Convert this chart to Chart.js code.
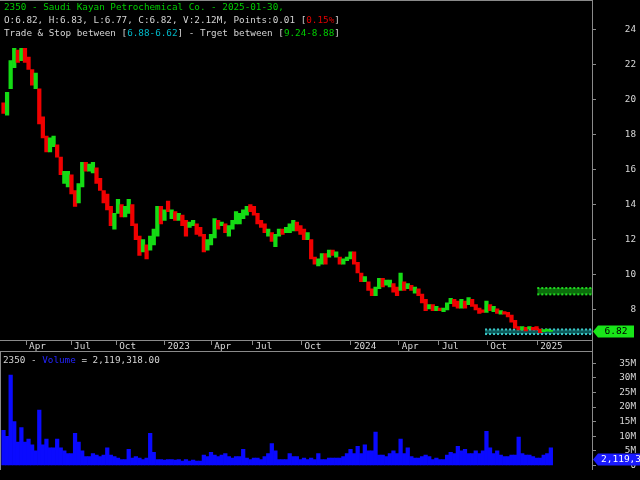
<!DOCTYPE html>
<html>
<head>
<meta charset="utf-8">
<script src="https://cdn.jsdelivr.net/npm/chart.js@4.4.1/dist/chart.umd.min.js"></script>
<style>
  html, body { margin: 0; padding: 0; background: #000; }
  #wrap { position: relative; width: 640px; height: 480px; overflow: hidden; background: #000;
          font-family: 'DejaVu Sans Mono', 'Liberation Mono', monospace; font-size: 9.3px; }
  #priceBox { position: absolute; left: 0; top: 0; width: 640px; height: 352px; }
  #volBox { position: absolute; left: 0; top: 352px; width: 640px; height: 128px; }
  .info { position: absolute; white-space: pre; line-height: 13px; color: #d4d4d4; }
  .green { color: #00cc00; }
  .red { color: #e00000; }
  .cyan { color: #00b8c8; }
  .blue { color: #2424ff; }
</style>
</head>
<body>
<div id="wrap">
  <div id="priceBox"><canvas id="priceChart" width="640" height="352"></canvas></div>
  <div id="volBox"><canvas id="volChart" width="640" height="128"></canvas></div>
  <div class="info green" style="left:4px; top:0px;">2350 - Saudi Kayan Petrochemical Co. - 2025-01-30,</div>
  <div class="info" style="left:4px; top:13px;">O:6.82, H:6.83, L:6.77, C:6.82, V:2.12M, Points:0.01 [<span class="red">0.15%</span>]</div>
  <div class="info" style="left:4px; top:26px;">Trade &amp; Stop between [<span class="cyan">6.88-6.62</span>] - Trget between [<span class="green">9.24-8.88</span>]</div>
  <div class="info" style="left:3px; top:353px;">2350 - <span class="blue">Volume</span> = 2,119,318.00</div>
</div>
<script>
// weekly candles (week 0 = mid Feb 2022, week 153 = last week of Jan 2025)
const opens = [
  19.8, 19.1, 20.6, 21.8, 22.8, 22.2, 22.9, 22.4, 21.7, 20.6,
  20.6, 19.0, 17.9, 17.0, 17.3, 17.4, 16.7, 15.2, 15.0, 15.7,
  14.8, 14.1, 15.0, 16.4, 15.9, 15.8, 16.1, 15.5, 14.8, 14.6,
  13.9, 12.6, 13.5, 14.0, 13.3, 13.5, 14.0, 12.9, 12.2, 11.3,
  11.7, 11.4, 11.7, 12.2, 13.9, 13.1, 14.2, 13.2, 13.6, 13.1,
  13.4, 13.1, 12.7, 12.8, 12.9, 12.7, 12.3, 11.4, 11.7, 12.1,
  13.1, 12.8, 12.9, 12.2, 12.6, 12.9, 12.9, 13.2, 13.4, 14.0,
  13.9, 13.5, 13.1, 12.9, 12.2, 12.4, 11.6, 12.2, 12.6, 12.4,
  12.4, 12.5, 13.0, 12.8, 12.6, 12.0, 12.0, 11.0, 10.5, 10.6,
  11.2, 11.0, 11.4, 11.0, 11.0, 10.6, 10.8, 10.9, 11.3, 10.7,
  10.1, 9.6, 9.6, 9.2, 8.8, 9.2, 9.8, 9.4, 9.3, 9.5,
  9.3, 9.1, 9.6, 9.2, 9.4, 8.95, 9.2, 8.9, 8.6, 8.05,
  8.3, 7.95, 8.1, 7.9, 8.0, 8.35, 8.6, 8.5, 8.1, 8.5,
  8.3, 8.6, 8.3, 8.1, 8.0, 7.85, 8.3, 7.9, 8.05, 7.75,
  7.9, 7.85, 7.7, 7.4, 7.05, 6.85, 7.0, 6.9, 7.0, 7.05,
  6.9, 6.75, 6.78, 6.77
];
const closes = [
  19.2, 20.4, 22.2, 22.9, 22.1, 22.9, 22.1, 21.7, 20.8, 21.5,
  18.6, 17.8, 17.0, 17.8, 17.9, 16.7, 15.7, 15.9, 15.9, 14.6,
  13.9, 15.2, 16.4, 15.9, 16.3, 16.4, 15.2, 14.8, 14.1, 13.7,
  12.8, 13.5, 14.3, 13.3, 13.9, 14.3, 12.8, 12.0, 11.1, 12.0,
  10.9, 12.2, 12.6, 13.9, 12.9, 13.7, 13.6, 13.7, 13.1, 13.5,
  12.8, 12.2, 13.0, 13.1, 12.3, 12.2, 11.3, 12.0, 12.3, 13.2,
  12.6, 13.0, 12.4, 12.8, 13.1, 13.6, 13.5, 13.7, 13.9, 13.6,
  13.4, 12.9, 12.7, 12.4, 12.6, 11.9, 12.3, 12.6, 12.3, 12.7,
  12.9, 13.1, 12.5, 12.3, 12.0, 12.4, 10.9, 10.6, 10.9, 11.2,
  10.6, 11.4, 11.1, 11.3, 10.6, 10.9, 11.0, 11.3, 10.6, 10.1,
  9.6, 9.9, 9.1, 8.8, 9.3, 9.8, 9.3, 9.7, 9.7, 9.0,
  8.8, 10.1, 9.1, 9.5, 9.1, 9.3, 8.8, 8.4, 7.95, 8.3,
  7.95, 8.2, 7.95, 8.1, 8.4, 8.65, 8.2, 8.1, 8.6, 8.1,
  8.7, 8.2, 8.0, 7.8, 7.85, 8.5, 7.95, 8.2, 7.8, 7.95,
  7.75, 7.6, 7.3, 6.95, 6.85, 7.05, 6.8, 7.05, 6.85, 6.85,
  6.7, 6.88, 6.9, 6.82
];
// volume in millions, one bar per week
const volumes = [
  12, 10, 31, 15, 8, 13, 8, 9, 7, 5,
  19, 7, 9, 6, 6, 9, 6, 5, 4, 4,
  11, 8, 5, 3, 3, 4, 3.5, 3, 3.5, 6,
  3.5, 3, 2.5, 2, 2, 5.5, 2.5, 3, 2.5, 2,
  2.5, 11, 4.5, 2, 2, 1.8, 2, 2, 1.8, 2,
  1.5, 2, 1.5, 1.8, 1.5, 1.5, 3.5, 3, 4.5, 3.5,
  3, 3.5, 4, 3, 2.5, 3, 3, 5.5, 2.5, 2,
  2.5, 2.5, 2, 3, 4, 7.5, 5, 2, 2, 2,
  4, 3, 3, 2, 2.5, 2, 2.5, 2, 4, 2,
  2, 2.5, 2.5, 2.5, 2.5, 3, 4, 5.5, 4, 6.5,
  4, 7, 5, 5, 11.4, 3.5, 3.5, 3, 4, 5,
  4, 9, 4, 6, 3, 2.5, 2.5, 3, 3.5, 3,
  2, 2.5, 2, 2, 3.5, 4.5, 4, 6.5, 5, 5.5,
  4, 4, 5, 4, 5, 11.7, 6, 4, 5, 3.5,
  3, 3, 3.5, 3.5, 9.7, 4, 3.5, 3.5, 3, 2.5,
  2.5, 3.5, 4, 6
];
const lastVolume = 2119318;

const priceTicks = [8, 10, 12, 14, 16, 18, 20, 22, 24];
const volumeTicks = [0, 5, 10, 15, 20, 25, 30, 35];
const tickWeeks = [6.3, 18.9, 31.5, 45.0, 58.1, 69.6, 83.3, 97.1, 110.5, 121.7, 135.2, 149.2];
const tickLabels = ['Apr', 'Jul', 'Oct', '2023', 'Apr', 'Jul', 'Oct', '2024', 'Apr', 'Jul', 'Oct', '2025'];

// trade/stop and target zones: [low, high], first week shown
const stopZone = [6.62, 6.88];
const stopStart = 134.6;
const targetZone = [8.88, 9.24];
const targetStart = 149.2;

const xMin = -0.98;
const xMax = 164.5;
const gridColor = '#8a8a8a';
const labelColor = '#d8d8d8';
const monoFont = { family: "'DejaVu Sans Mono', 'Liberation Mono', monospace", size: 9.3 };
const upColor = '#14dc14';
const downColor = '#f00000';

function zoneLine(value, start) {
  return [{ x: start, y: value }, { x: xMax, y: value }];
}

// grey frame lines around the panels
function framePlugin(isPrice) {
  return {
    id: 'frame',
    afterDraw(chart) {
      const { ctx, chartArea: a, height } = chart;
      ctx.save();
      ctx.strokeStyle = gridColor;
      ctx.lineWidth = 1;
      ctx.beginPath();
      if (isPrice) {
        ctx.moveTo(0, 0.5); ctx.lineTo(a.right, 0.5);
        ctx.moveTo(0, a.bottom + 0.5); ctx.lineTo(a.right, a.bottom + 0.5);
        ctx.moveTo(0, height - 0.5); ctx.lineTo(a.right, height - 0.5);
        ctx.moveTo(a.right + 0.5, 0); ctx.lineTo(a.right + 0.5, height);
      } else {
        ctx.moveTo(0.5, 0); ctx.lineTo(0.5, a.bottom);
        ctx.moveTo(a.right + 0.5, 0); ctx.lineTo(a.right + 0.5, a.bottom);
      }
      ctx.stroke();
      ctx.restore();
    }
  };
}

// coloured value tag on the right axis; boxWidth null = runs off the edge
function tagPlugin(getValue, text, bg, fg, boxWidth) {
  return {
    id: 'tag',
    afterDraw(chart) {
      const { ctx, chartArea: a, width } = chart;
      const y = Math.round(chart.scales.y.getPixelForValue(getValue())) + 0.5;
      const x = a.right + 1;
      const h = 12;
      const right = boxWidth ? x + boxWidth : width + 2;
      ctx.save();
      ctx.fillStyle = bg;
      ctx.beginPath();
      ctx.moveTo(x, y);
      ctx.lineTo(x + 5, y - h / 2);
      ctx.lineTo(right, y - h / 2);
      ctx.lineTo(right, y + h / 2);
      ctx.lineTo(x + 5, y + h / 2);
      ctx.closePath();
      ctx.fill();
      ctx.fillStyle = fg;
      ctx.font = "9.5px 'DejaVu Sans Mono', monospace";
      ctx.textBaseline = 'middle';
      if (boxWidth) {
        ctx.textAlign = 'center';
        ctx.fillText(text, (x + 5 + right) / 2, y + 0.5);
      } else {
        ctx.textAlign = 'left';
        ctx.fillText(text, x + 8, y + 0.5);
      }
      ctx.restore();
    }
  };
}

const candleData = opens.map((o, i) => ({ x: i, y: [o, closes[i]] }));
const candleColors = opens.map((o, i) => closes[i] >= o ? upColor : downColor);

new Chart(document.getElementById('priceChart'), {
  type: 'bar',
  data: {
    datasets: [{
      label: '2350',
      data: candleData,
      backgroundColor: candleColors,
      borderWidth: 0,
      barPercentage: 1,
      categoryPercentage: 1,
      minBarLength: 1,
      order: 0
    }, {
      type: 'line',
      label: 'Target high',
      data: zoneLine(targetZone[1], targetStart),
      borderColor: '#22d822',
      borderWidth: 2,
      borderDash: [2, 2],
      pointRadius: 0,
      fill: false,
      order: 1
    }, {
      type: 'line',
      label: 'Target low',
      data: zoneLine(targetZone[0], targetStart),
      borderColor: '#22d822',
      borderWidth: 2,
      borderDash: [2, 2],
      backgroundColor: '#0b6e0b',
      pointRadius: 0,
      fill: '-1',
      order: 1
    }, {
      type: 'line',
      label: 'Stop high',
      data: zoneLine(stopZone[1], stopStart),
      borderColor: '#3cc8c8',
      borderWidth: 2,
      borderDash: [2, 2],
      pointRadius: 0,
      fill: false,
      order: 1
    }, {
      type: 'line',
      label: 'Stop low',
      data: zoneLine(stopZone[0], stopStart),
      borderColor: '#3cc8c8',
      borderWidth: 2,
      borderDash: [2, 2],
      backgroundColor: '#0c5a5a',
      pointRadius: 0,
      fill: '-1',
      order: 1
    }]
  },
  options: {
    responsive: false,
    animation: false,
    layout: { padding: { top: 1, left: 0, right: 4, bottom: 0 } },
    plugins: { legend: { display: false }, tooltip: { enabled: false } },
    scales: {
      x: {
        type: 'linear',
        min: xMin,
        max: xMax,
        offset: false,
        afterFit: axis => { axis.height = 12; },
        afterBuildTicks: axis => { axis.ticks = tickWeeks.map(v => ({ value: v })); },
        ticks: {
          callback: (v, i) => tickLabels[i],
          color: labelColor,
          font: monoFont,
          align: 'start',
          labelOffset: 3,
          padding: -4,
          maxRotation: 0,
          autoSkip: false
        },
        grid: { drawOnChartArea: false, offset: false, color: gridColor, tickLength: 5 },
        border: { display: false }
      },
      y: {
        position: 'right',
        min: 6.28,
        max: 25.17,
        afterFit: axis => { axis.width = 44; },
        afterBuildTicks: axis => { axis.ticks = priceTicks.map(v => ({ value: v })); },
        ticks: { color: labelColor, font: monoFont, crossAlign: 'far' },
        grid: { drawOnChartArea: false, color: gridColor, tickLength: 4 },
        border: { display: false }
      }
    }
  },
  plugins: [framePlugin(true), tagPlugin(() => closes[closes.length - 1], '6.82', '#19e619', '#000', 41)]
});

new Chart(document.getElementById('volChart'), {
  type: 'bar',
  data: {
    datasets: [{
      label: 'Volume',
      data: volumes.map((v, i) => ({ x: i, y: v })),
      backgroundColor: '#0a0aff',
      borderWidth: 0,
      barPercentage: 1,
      categoryPercentage: 1
    }]
  },
  options: {
    responsive: false,
    animation: false,
    layout: { padding: { top: 1, left: 0, right: 4, bottom: 10 } },
    plugins: { legend: { display: false }, tooltip: { enabled: false } },
    scales: {
      x: { type: 'linear', min: xMin, max: xMax, offset: false, grid: { offset: false }, display: false },
      y: {
        position: 'right',
        min: -1.6,
        max: 35.96,
        afterFit: axis => { axis.width = 44; },
        afterBuildTicks: axis => { axis.ticks = volumeTicks.map(v => ({ value: v })); },
        ticks: { color: labelColor, font: monoFont, crossAlign: 'far', callback: v => v === 0 ? '0' : v + 'M' },
        grid: { drawOnChartArea: false, color: gridColor, tickLength: 4 },
        border: { display: false }
      }
    }
  },
  plugins: [framePlugin(false), tagPlugin(() => lastVolume / 1e6, '2,119,318', '#1a1aff', '#ffffff', null)]
});
</script>
</body>
</html>
